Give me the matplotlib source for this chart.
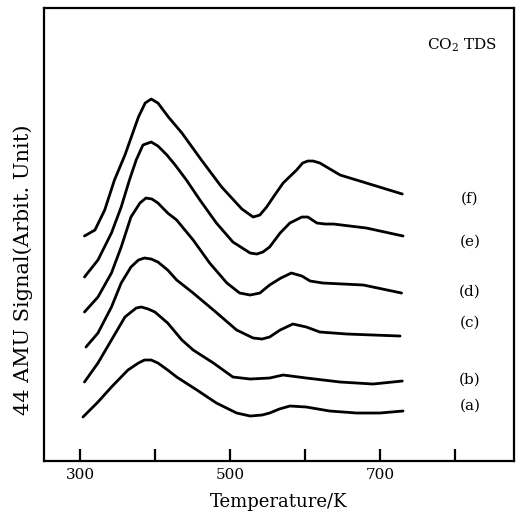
import matplotlib
matplotlib.use("Agg")
import matplotlib.pyplot as plt

# temperature (K) and 44 AMU signal (arbitrary units)
temp_a = [304, 324, 342, 364, 378, 386, 395, 404, 417, 429, 456, 482, 509, 527, 543, 553, 566, 580, 602, 633, 669, 700, 731]
sig_a = [44, 59, 74, 91, 98, 101, 101, 98, 91, 84, 71, 58, 48, 45, 46, 48, 52, 55, 54, 50, 48, 48, 50]

temp_b = [306, 324, 342, 360, 375, 382, 391, 400, 417, 436, 451, 478, 504, 527, 553, 571, 602, 647, 691, 730]
sig_b = [79, 98, 121, 144, 153, 154, 152, 149, 138, 121, 111, 98, 84, 82, 83, 86, 83, 79, 77, 80]

temp_c = [308, 324, 342, 355, 368, 378, 386, 395, 404, 417, 429, 451, 478, 509, 531, 543, 553, 567, 584, 602, 620, 656, 691, 727]
sig_c = [114, 128, 154, 178, 194, 201, 203, 202, 199, 191, 181, 168, 151, 131, 123, 122, 124, 131, 137, 134, 129, 127, 126, 125]

temp_d = [306, 324, 342, 355, 368, 380, 388, 396, 404, 417, 429, 451, 473, 496, 513, 527, 540, 553, 568, 582, 596, 607, 624, 678, 729]
sig_d = [149, 164, 188, 214, 244, 258, 263, 262, 258, 248, 241, 221, 198, 178, 168, 166, 168, 176, 183, 188, 185, 180, 178, 176, 168]

temp_e = [306, 324, 342, 355, 366, 375, 384, 395, 404, 416, 427, 442, 460, 482, 504, 527, 536, 544, 553, 567, 580, 596, 604, 616, 627, 638, 682, 731]
sig_e = [184, 201, 228, 254, 281, 301, 316, 319, 315, 306, 296, 281, 261, 238, 219, 208, 207, 209, 214, 228, 238, 244, 244, 238, 237, 237, 233, 225]

temp_f = [306, 320, 333, 346, 360, 378, 387, 395, 404, 418, 436, 462, 489, 516, 531, 540, 549, 558, 571, 589, 597, 604, 611, 620, 647, 682, 730]
sig_f = [225, 231, 251, 281, 306, 344, 358, 362, 358, 344, 328, 301, 274, 252, 244, 246, 254, 264, 278, 291, 298, 300, 300, 298, 286, 278, 267]

curve_labels = ["(a)", "(b)", "(c)", "(d)", "(e)", "(f)"]
label_temp = 820
label_sig = [55, 81, 138, 169, 219, 262]

xticks = [300, 400, 500, 600, 700, 800]
xtick_labels = ["300", "", "500", "", "700", ""]

plt.rcParams["font.family"] = ["DejaVu Serif"]
plt.rcParams["mathtext.fontset"] = "dejavuserif"

fig = plt.figure(figsize=(5.23, 5.24), dpi=100)
ax = fig.add_axes([0.0841, 0.1202, 0.8987, 0.8645])

curves = [(temp_a, sig_a), (temp_b, sig_b), (temp_c, sig_c),
          (temp_d, sig_d), (temp_e, sig_e), (temp_f, sig_f)]
for (t, s), lab, ly in zip(curves, curve_labels, label_sig):
    ax.plot(t, s, color="black", linewidth=2.0, solid_joinstyle="round",
            solid_capstyle="round")
    ax.text(label_temp, ly, lab, ha="center", va="center", fontsize=11)

ax.text(809, 416, "CO$_2$ TDS", ha="center", va="center", fontsize=11)

ax.set_xlim(252, 879)
ax.set_ylim(0, 453)
ax.set_xticks(xticks)
ax.set_xticklabels(xtick_labels, fontsize=11)
ax.set_yticks([])
ax.tick_params(axis="x", direction="in", length=9, width=1.6, pad=5)
for sp in ax.spines.values():
    sp.set_linewidth(1.6)

ax.set_xlabel("Temperature/K", fontsize=13, labelpad=8)
ax.set_ylabel("44 AMU Signal(Arbit. Unit)", fontsize=15)
ax.yaxis.set_label_coords(-0.024, 0.423)

fig.savefig("out.png", dpi=100)
